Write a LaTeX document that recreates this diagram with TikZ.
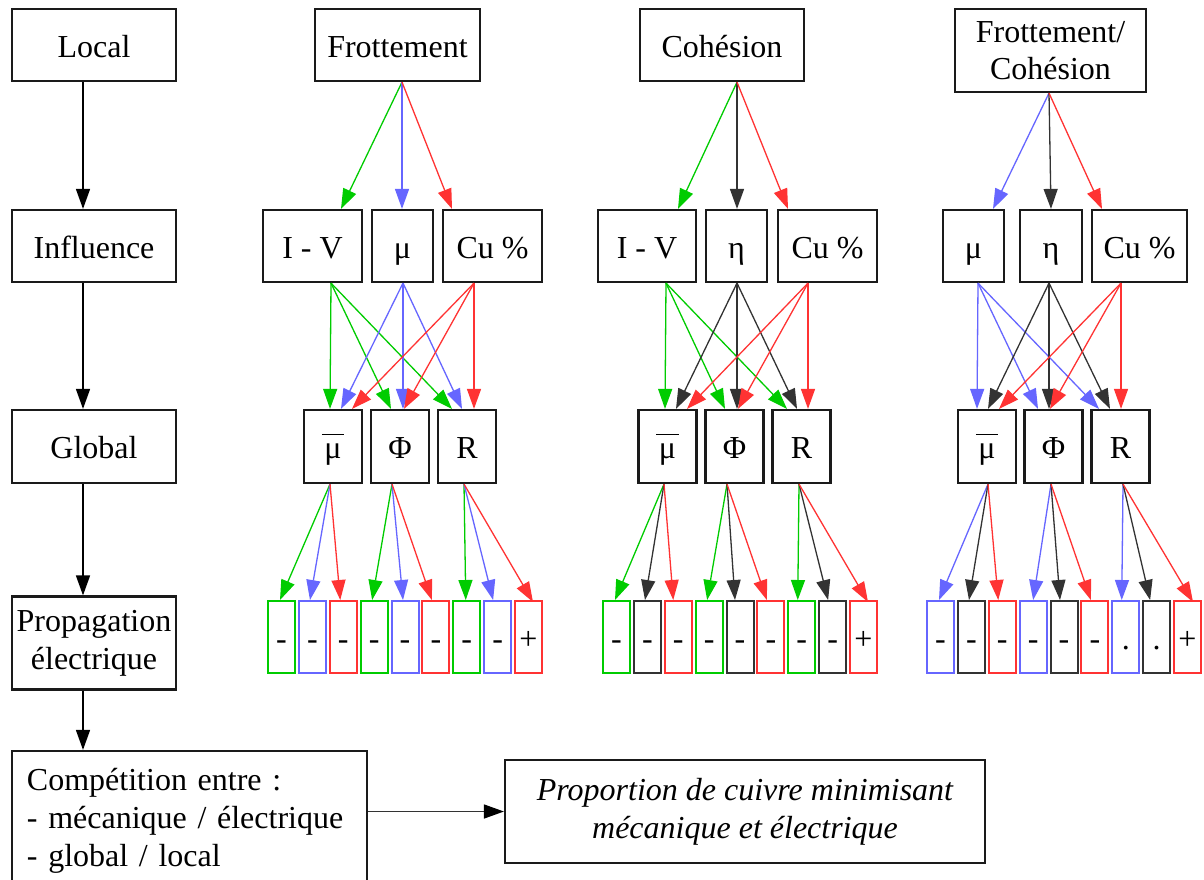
\documentclass[tikz,border=0pt]{standalone}
\usepackage{fontspec}
\setmainfont{Liberation Serif}
\usetikzlibrary{arrows.meta}
\definecolor{cg}{RGB}{0,204,0}
\definecolor{cb}{RGB}{102,102,255}
\definecolor{cr}{RGB}{255,51,51}
\definecolor{ck}{RGB}{51,51,51}
\definecolor{bord}{RGB}{26,26,26}
\newcommand{\mubar}{\(\overline{\rule{0pt}{22.5pt}\mbox{\kern2.5pt μ\kern2.5pt}}\)}
\begin{document}
\begin{tikzpicture}[x=1pt,y=-1pt,
  bx/.style={draw=bord, line width=2.2pt, inner sep=0pt, font=\fontsize{32}{38}\selectfont, minimum height=72},
  one/.style={text height=30pt, text depth=6pt},
  sb/.style={draw=#1, line width=2pt, minimum width=27, minimum height=72, inner sep=0pt, text height=30pt, text depth=6pt, font=\fontsize{32}{38}\selectfont},
  ar/.style={#1, line width=1.3pt, -{Triangle[length=20pt,width=14pt]}},
  ark/.style={black, line width=1.5pt, -{Triangle[length=20pt,width=14pt]}}]
\fill[white] (0,0) rectangle (1204,879);
\useasboundingbox (0,0) rectangle (1204,879);

% left column
\node[bx, one, minimum width=164] (local) at (94,45) {Local};
\node[bx, one, minimum width=164] (influence) at (94,246) {Influence};
\node[bx, one, minimum width=164, minimum height=73] (global) at (94,446.5) {Global};
\node[bx, minimum width=164, minimum height=93, align=center] (propag) at (94,643) {Propagation\\électrique};
\node[bx, minimum width=355, minimum height=139, text width=325, align=left] (compet) at (189.5,820.5) {Compétition entre :\\- mécanique / électrique\\- global / local};
\node[bx, minimum width=480, minimum height=103, align=center, font=\fontsize{32}{38}\selectfont\itshape] (propor) at (745,811.5) {Proportion de cuivre minimisant\\mécanique et électrique};

\draw[ark] ([xshift=-11]local.south) -- ([xshift=-11]influence.north);
\draw[ark] ([xshift=-11]influence.south) -- ([xshift=-11]global.north);
\draw[ark] ([xshift=-11]global.south) -- ([xshift=-11]propag.north);
\draw[ark] ([xshift=-11]propag.south) coordinate (p0) -- (p0 |- compet.north);
\draw[ck, line width=1.5pt, -{Triangle[length=20pt,width=14pt,color=black]}] (compet.east |- propor.west) -- (propor.west);

% column 1 : Frottement
\node[bx, one, minimum width=165] (f1) at (397.5,45) {Frottement};
\node[bx, one, minimum width=99] (iv1) at (312.5,246) {I - V};
\node[bx, one, minimum width=61] (mu1) at (402.5,246) {μ};
\node[bx, one, minimum width=99] (cu1) at (492.5,246) {Cu \%};
\node[bx, one, minimum width=58, minimum height=73] (mb1) at (333,446.5) {\mubar};
\node[bx, one, minimum width=58, minimum height=73] (ph1) at (400,446.5) {Φ};
\node[bx, one, minimum width=58, minimum height=73] (r1) at (467,446.5) {R};
\foreach \i/\c/\t in {1/cg/-,2/cb/-,3/cr/-,4/cg/-,5/cb/-,6/cr/-,7/cg/-,8/cb/-,9/cr/+}
  \node[sb=\c] (s1-\i) at ({281.5+30.875*(\i-1)},637) {\t};

\draw[ar=cg] ([xshift=4.5]f1.south) -- ([xshift=28.5]iv1.north);
\draw[ar=cb] ([xshift=4.5]f1.south) -- ([xshift=-0.5]mu1.north);
\draw[ar=cr] ([xshift=4.5]f1.south) -- ([xshift=-40.5]cu1.north);

\draw[ar=cg] ([xshift=18.5]iv1.south) -- ([xshift=-3]mb1.north);
\draw[ar=cg] ([xshift=18.5]iv1.south) -- ([xshift=-9]ph1.north);
\draw[ar=cg] ([xshift=18.5]iv1.south) -- ([xshift=-15]r1.north);
\draw[ar=cb] ([xshift=0.5]mu1.south) -- ([xshift=8]mb1.north);
\draw[ar=cb] ([xshift=0.5]mu1.south) -- ([xshift=3]ph1.north);
\draw[ar=cb] ([xshift=0.5]mu1.south) -- ([xshift=-5]r1.north);
\draw[ar=cr] ([xshift=-18.5]cu1.south) -- ([xshift=19]mb1.north);
\draw[ar=cr] ([xshift=-18.5]cu1.south) -- ([xshift=4]ph1.north);
\draw[ar=cr] ([xshift=-18.5]cu1.south) -- ([xshift=7]r1.north);

\draw[ar=cg] ([xshift=-3]mb1.south) -- ([xshift=-1.5]s1-1.north);
\draw[ar=cb] ([xshift=-3]mb1.south) -- ([xshift=-2.4]s1-2.north);
\draw[ar=cr] ([xshift=-3]mb1.south) -- ([xshift=-3]s1-3.north);
\draw[ar=cg] ([xshift=-8]ph1.south) -- ([xshift=-2]s1-4.north);
\draw[ar=cb] ([xshift=-8]ph1.south) -- ([xshift=-2]s1-5.north);
\draw[ar=cr] ([xshift=-8]ph1.south) -- ([xshift=-4]s1-6.north);
\draw[ar=cg] ([xshift=-3]r1.south) -- ([xshift=-1]s1-7.north);
\draw[ar=cb] ([xshift=-3]r1.south) -- ([xshift=-4.5]s1-8.north);
\draw[ar=cr] ([xshift=-3]r1.south) -- ([xshift=4.5,yshift=-2pt]s1-9.north);

% column 2 : Cohesion
\node[bx, one, minimum width=164] (f2) at (722,45) {Cohésion};
\node[bx, one, minimum width=98] (iv2) at (647,246) {I - V};
\node[bx, one, minimum width=61] (eta2) at (736.5,246) {η};
\node[bx, one, minimum width=99] (cu2) at (827.5,246) {Cu \%};
\node[bx, one, minimum width=58, minimum height=73] (mb2) at (667.5,446.5) {\mubar};
\node[bx, one, minimum width=58, minimum height=73] (ph2) at (734.5,446.5) {Φ};
\node[bx, one, minimum width=58, minimum height=73] (r2) at (801.5,446.5) {R};
\foreach \i/\c/\t in {1/cg/-,2/ck/-,3/cr/-,4/cg/-,5/ck/-,6/cr/-,7/cg/-,8/ck/-,9/cr/+}
  \node[sb=\c] (s2-\i) at ({616.5+30.875*(\i-1)},637) {\t};

\draw[ar=cg] ([xshift=15]f2.south) -- ([xshift=31]iv2.north);
\draw[ar=ck] ([xshift=15]f2.south) -- ([xshift=0.5]eta2.north);
\draw[ar=cr] ([xshift=15]f2.south) -- ([xshift=-39.5]cu2.north);

\draw[ar=cg] ([xshift=19]iv2.south) -- ([xshift=-2.5]mb2.north);
\draw[ar=cg] ([xshift=19]iv2.south) -- ([xshift=-9.5]ph2.north);
\draw[ar=cg] ([xshift=19]iv2.south) -- ([xshift=-14.5]r2.north);
\draw[ar=ck] ([xshift=0.5]eta2.south) -- ([xshift=8.5]mb2.north);
\draw[ar=ck] ([xshift=0.5]eta2.south) -- ([xshift=2.5]ph2.north);
\draw[ar=ck] ([xshift=0.5]eta2.south) -- ([xshift=-4.5]r2.north);
\draw[ar=cr] ([xshift=-19.5]cu2.south) -- ([xshift=19.5]mb2.north);
\draw[ar=cr] ([xshift=-19.5]cu2.south) -- ([xshift=3.5]ph2.north);
\draw[ar=cr] ([xshift=-19.5]cu2.south) -- ([xshift=6.5]r2.north);

\draw[ar=cg] ([xshift=-3.5]mb2.south) -- ([xshift=-1.5]s2-1.north);
\draw[ar=ck] ([xshift=-3.5]mb2.south) -- ([xshift=-2.4]s2-2.north);
\draw[ar=cr] ([xshift=-3.5]mb2.south) -- ([xshift=-5]s2-3.north);
\draw[ar=cg] ([xshift=-7.5]ph2.south) -- ([xshift=-2]s2-4.north);
\draw[ar=ck] ([xshift=-7.5]ph2.south) -- ([xshift=-5]s2-5.north);
\draw[ar=cr] ([xshift=-7.5]ph2.south) -- ([xshift=-4]s2-6.north);
\draw[ar=cg] ([xshift=-2.5]r2.south) -- ([xshift=-4]s2-7.north);
\draw[ar=ck] ([xshift=-2.5]r2.south) -- ([xshift=-4.5]s2-8.north);
\draw[ar=cr] ([xshift=-2.5]r2.south) -- ([xshift=4.5,yshift=-2pt]s2-9.north);

% column 3 : Frottement/Cohesion
\node[bx, minimum width=191, minimum height=83, align=center, font=\fontsize{32}{37}\selectfont] (f3) at (1050.5,50.5) {Frottement/\\Cohésion};
\node[bx, one, minimum width=61] (mu3) at (973.5,246) {μ};
\node[bx, one, minimum width=62] (eta3) at (1051,246) {η};
\node[bx, one, minimum width=95] (cu3) at (1139.5,246) {Cu \%};
\node[bx, one, minimum width=58, minimum height=73] (mb3) at (987,446.5) {\mubar};
\node[bx, one, minimum width=58, minimum height=73] (ph3) at (1053.5,446.5) {Φ};
\node[bx, one, minimum width=58, minimum height=73] (r3) at (1120.5,446.5) {R};
\foreach \i/\c/\t in {1/cb/-,2/ck/-,3/cr/-,4/cb/-,5/ck/-,6/cr/-,7/cb/.,8/ck/.,9/cr/+}
  \node[sb=\c] (s3-\i) at ({940.5+30.875*(\i-1)},637) {\t};

\draw[ar=cb] ([xshift=-1.5]f3.south) -- ([xshift=19.5]mu3.north);
\draw[ar=ck] ([xshift=-1.5]f3.south) -- (eta3.north);
\draw[ar=cr] ([xshift=-1.5]f3.south) -- ([xshift=-37.5]cu3.north);

\draw[ar=cb] ([xshift=4.5]mu3.south) -- ([xshift=-10]mb3.north);
\draw[ar=cb] ([xshift=4.5]mu3.south) -- ([xshift=-15.5]ph3.north);
\draw[ar=cb] ([xshift=4.5]mu3.south) -- ([xshift=-21.5]r3.north);
\draw[ar=ck] ([xshift=-2]eta3.south) -- ([xshift=1]mb3.north);
\draw[ar=ck] ([xshift=-2]eta3.south) -- ([xshift=-4.5]ph3.north);
\draw[ar=ck] ([xshift=-2]eta3.south) -- ([xshift=-10.5]r3.north);
\draw[ar=cr] ([xshift=-18.5]cu3.south) -- ([xshift=12]mb3.north);
\draw[ar=cr] ([xshift=-18.5]cu3.south) -- ([xshift=-3.5]ph3.north);
\draw[ar=cr] ([xshift=-18.5]cu3.south) -- ([xshift=0.5]r3.north);

\draw[ar=cb] ([xshift=1]mb3.south) -- ([xshift=-1.5]s3-1.north);
\draw[ar=ck] ([xshift=1]mb3.south) -- ([xshift=-2.4]s3-2.north);
\draw[ar=cr] ([xshift=1]mb3.south) -- ([xshift=-4]s3-3.north);
\draw[ar=cb] ([xshift=-2.5]ph3.south) -- (s3-4.north);
\draw[ar=ck] ([xshift=-2.5]ph3.south) -- ([xshift=-4]s3-5.north);
\draw[ar=cr] ([xshift=-2.5]ph3.south) -- ([xshift=-4]s3-6.north);
\draw[ar=cb] ([xshift=2.5]r3.south) -- ([xshift=-4]s3-7.north);
\draw[ar=ck] ([xshift=2.5]r3.south) -- ([xshift=-6.5]s3-8.north);
\draw[ar=cr] ([xshift=2.5]r3.south) -- ([xshift=5.5,yshift=-2pt]s3-9.north);
\end{tikzpicture}
\end{document}
